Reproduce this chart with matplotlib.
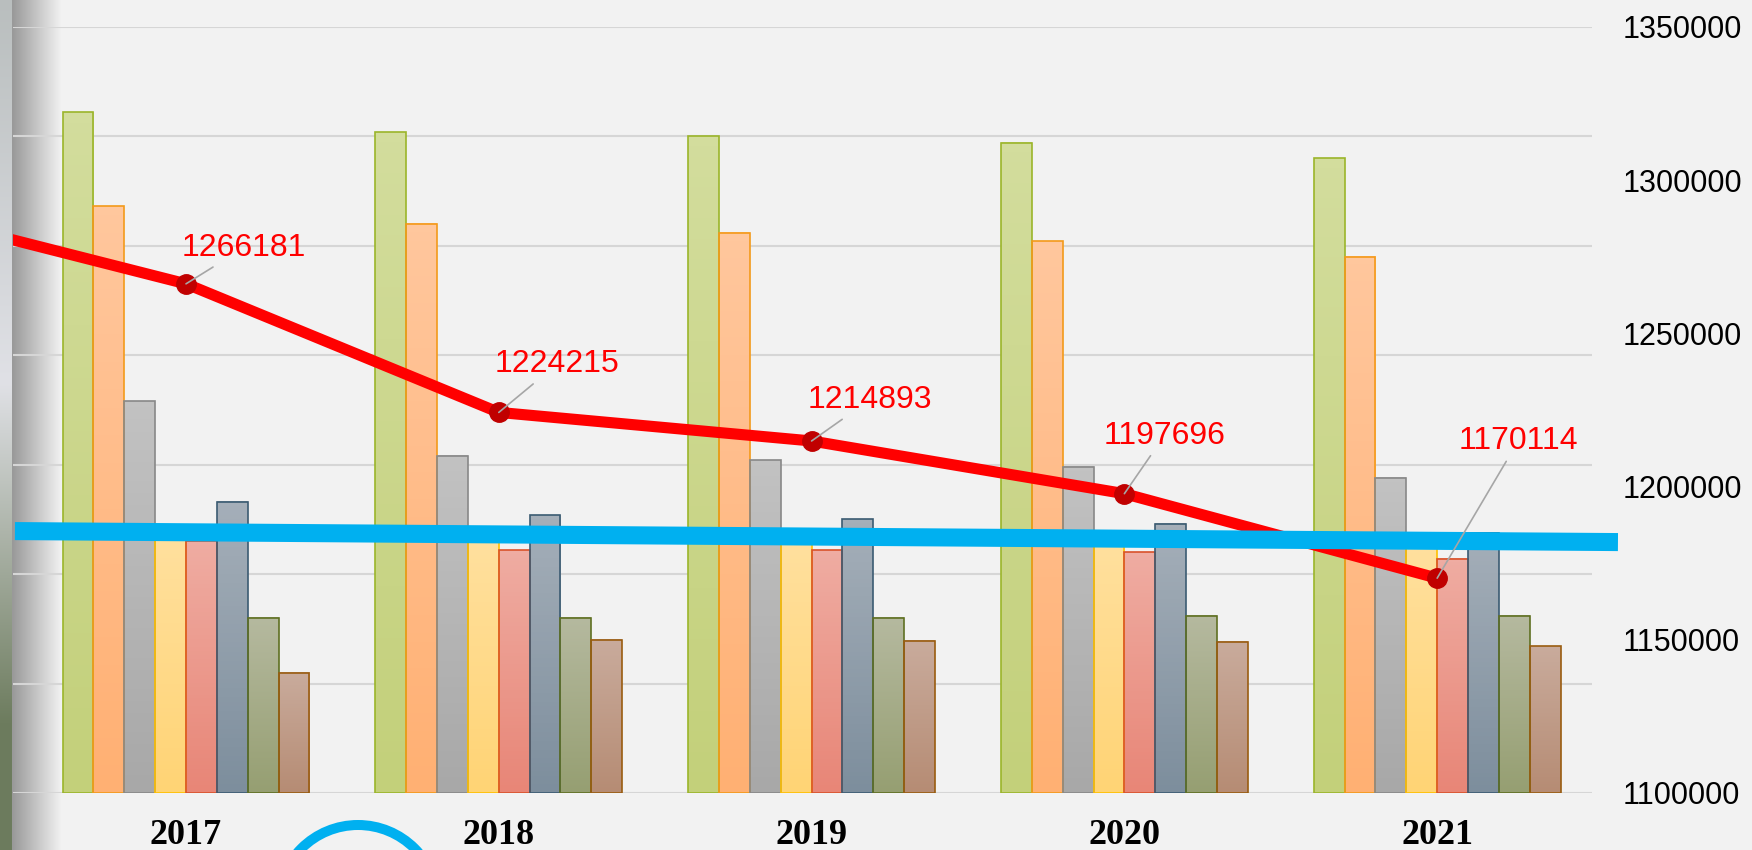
import numpy as np
import matplotlib
matplotlib.use("Agg")
import matplotlib.pyplot as plt
from matplotlib.colors import LinearSegmentedColormap, to_rgb
from matplotlib.patches import Circle

# data
years = ["2017", "2018", "2019", "2020", "2021"]
green = [311, 302, 300, 297, 290]
orange = [268, 260, 256, 252, 245]
gray = [179, 154, 152, 149, 144]
yellow = [118, 116, 116, 115, 113]
salmon = [115, 111, 111, 110, 107]
bluegray = [133, 127, 125, 123, 119]
olive = [80, 80, 80, 81, 81]
brown = [55, 70, 69.5, 69, 67]

# red line, incl. the cut-off point before 2017
line_x = [-1, 0, 1, 2, 3, 4]
line_vals = [1292100, 1266181, 1224215, 1214893, 1197696, 1170114]
labelled = [1266181, 1224215, 1214893, 1197696, 1170114]
label_offsets = [(58, 36), (58, 48), (58, 41), (40, 58), (81, 137)]

# blue trend line (values at 2017 and 2021)
trend_vals = [1185100, 1182300]

series = [green, orange, gray, yellow, salmon, bluegray, olive, brown]
styles = [("#d3dd9d", "#c3d07a", "#9bb52a"),
          ("#ffc79d", "#ffb073", "#f39a1a"),
          ("#c2c2c2", "#a8a8a8", "#888888"),
          ("#ffe09e", "#ffd475", "#ffc000"),
          ("#efaca2", "#e88677", "#d9522b"),
          ("#a5afb9", "#7d8e9d", "#3b5b72"),
          ("#b5b99f", "#969f72", "#5f7022"),
          ("#c9ab9c", "#b68c74", "#9a5c10")]

W, H = 1752, 850
fig = plt.figure(figsize=(W / 100, H / 100), dpi=100)
fig.patch.set_facecolor("#f2f2f2")

# photo strip + shadow at the left edge
strip_w = 62
img = np.zeros((H, strip_w, 3))
top_c, mid_c, bot_c = np.array(to_rgb("#b9bebe")), np.array(to_rgb("#e0e1e6")), np.array(to_rgb("#6d7c5e"))
for r in range(H):
    t = r / H
    if t < 0.45:
        c = top_c + (mid_c - top_c) * (t / 0.45)
    else:
        c = mid_c + (bot_c - mid_c) * min(1, (t - 0.45) / 0.4)
    img[r, :12] = c
shade = np.linspace(0.6, 0.95, strip_w - 12)
img[:, 12:] = shade[None, :, None]
ax_bg = fig.add_axes([0, 0, strip_w / W, 1], zorder=0)
ax_bg.imshow(img, aspect="auto", extent=[0, 1, 0, 1])
ax_bg.axis("off")

left, right = 12.5, 1592
bottom, top = 793, 27
ax = fig.add_axes([left / W, (H - bottom) / H, (right - left) / W, (bottom - top) / H], zorder=1)
ax.set_facecolor("none")

x = np.arange(len(years))
bw = 0.0986
for i, (vals, (c_top, c_bot, c_edge)) in enumerate(zip(series, styles)):
    pos = x + (i - 3.5) * bw
    cmap = LinearSegmentedColormap.from_list("g%d" % i, [c_bot, c_top])
    grad = np.linspace(1, 0, 64).reshape(-1, 1)
    for p, v in zip(pos, vals):
        ax.imshow(grad, cmap=cmap, extent=[p - bw / 2, p + bw / 2, 0, v],
                  aspect="auto", zorder=2, vmin=0, vmax=1)
    ax.bar(pos, vals, width=bw, facecolor="none", edgecolor=c_edge, linewidth=1.2, zorder=3)

ax.set_xlim(-0.5547, 4.495)
ax.set_ylim(0, 350)
ax.set_yticks(np.arange(0, 351, 50))
ax.yaxis.grid(True, color="#d6d6d6", linewidth=1.5, zorder=0)
ax.set_axisbelow(True)
ax.set_xticks(x)
ax.set_xticklabels(years, fontfamily="Liberation Serif", fontweight="bold", fontsize=26)
for s in ax.spines.values():
    s.set_visible(False)

ax2 = ax.twinx()
ax2.set_ylim(1100000, 1350000)
ax2.set_yticks(np.arange(1100000, 1350001, 50000))
ax2.set_yticklabels([str(v) for v in range(1100000, 1350001, 50000)],
                    fontfamily="Liberation Sans", fontsize=22)
ax2.tick_params(axis="y", length=0, pad=22)
for s in ax2.spines.values():
    s.set_visible(False)

# twinx turns the left ticks back on
ax.tick_params(axis="y", left=False, right=False, labelleft=False, length=0)
ax.tick_params(axis="x", length=0, pad=19)

ax2.plot(line_x, line_vals, color="#ff0000", linewidth=8, solid_capstyle="butt", zorder=4)
ax2.plot(x, labelled, "o", color="#c00000", markersize=14, zorder=5)

slope = (trend_vals[1] - trend_vals[0]) / 4
tx = np.array([-0.547, 4.578])
ax2.plot(tx, trend_vals[0] + slope * tx, color="#00b0f0", linewidth=13,
         solid_capstyle="butt", clip_on=False, zorder=6)

for xi, v, (dx, dy) in zip(x, labelled, label_offsets):
    ax2.annotate(str(v), xy=(xi, v), xytext=(dx, dy), textcoords="offset pixels",
                 ha="center", va="center", color="#ff0000", fontsize=23,
                 fontfamily="Liberation Sans", zorder=7,
                 arrowprops=dict(arrowstyle="-", color="#a6a6a6", lw=1.2, shrinkA=2, shrinkB=0))

ring = Circle((3.58, -0.55), 0.80, transform=fig.dpi_scale_trans, fill=False,
              edgecolor="#00b0f0", linewidth=7.2, clip_on=False)
fig.add_artist(ring)

fig.savefig("out.png", dpi=100, facecolor=fig.get_facecolor())
